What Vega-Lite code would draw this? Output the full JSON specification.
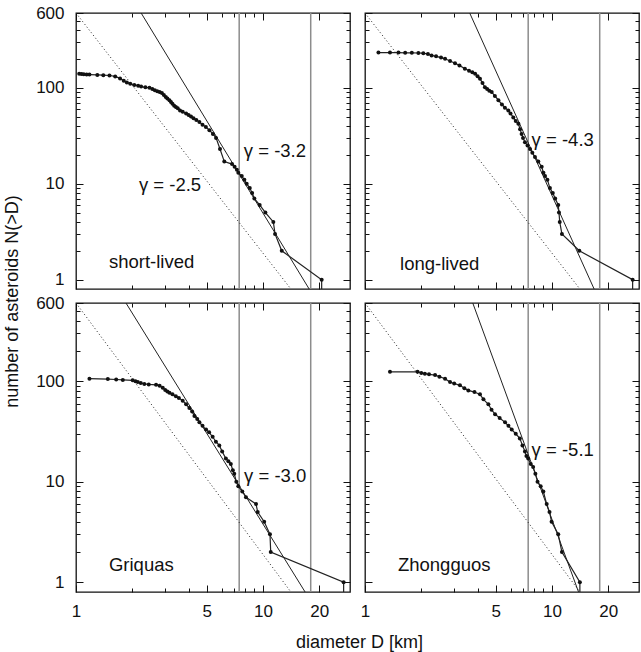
{
"$schema":"https://vega.github.io/schema/vega-lite/v6.json",
"padding":{"left":2,"top":3,"right":0,"bottom":5},
"background":"white",
"config":{"view":{"stroke":"#111","strokeWidth":1.3},
"axis":{"labelFont":"Liberation Sans","titleFont":"Liberation Sans","labelFontSize":17,"titleFontSize":18,"titleFontWeight":"normal","labelColor":"#111","titleColor":"#111","tickColor":"#111","tickWidth":1,"domain":false,"grid":false,"labelOverlap":false,"labelBound":false,"labelFlush":false},
"text":{"font":"Liberation Sans"}},
"datasets":{
"vl":[{"D":7.46},{"D":18.0}],
"ref":[{"D":1,"N":600},{"D":14.1,"N":0.8}],
"fits":[{"p":"A","D":2.23,"N":600},{"p":"A","D":17.66,"N":0.8},{"p":"B","D":3.63,"N":600},{"p":"B","D":16.8,"N":0.8},{"p":"C","D":1.85,"N":600},{"p":"C","D":16.8,"N":0.8},{"p":"D","D":3.77,"N":600},{"p":"D","D":13.87,"N":0.8}],
"labels":[{"p":"A","t":"γ = -3.2","D":7.9,"N":21.9},{"p":"A","t":"γ = -2.5","D":2.17,"N":9.6},{"p":"A","t":"short-lived","D":1.5,"N":1.52},{"p":"B","t":"γ = -4.3","D":7.78,"N":28.2},{"p":"B","t":"long-lived","D":1.54,"N":1.47},{"p":"C","t":"γ = -3.0","D":7.92,"N":11.4},{"p":"C","t":"Griquas","D":1.5,"N":1.48},{"p":"D","t":"γ = -5.1","D":7.78,"N":20.9},{"p":"D","t":"Zhongguos","D":1.5,"N":1.48}],
"obsA":[{"D":1.04,"N":140},{"D":1.07,"N":139},{"D":1.10,"N":138},{"D":1.14,"N":137},{"D":1.18,"N":137},{"D":1.30,"N":136},{"D":1.40,"N":135},{"D":1.51,"N":134},{"D":1.62,"N":131},{"D":1.72,"N":125},{"D":1.80,"N":118},{"D":1.87,"N":113},{"D":1.95,"N":110},{"D":2.05,"N":107},{"D":2.15,"N":105},{"D":2.23,"N":103},{"D":2.35,"N":101},{"D":2.47,"N":100},{"D":2.56,"N":97},{"D":2.64,"N":94},{"D":2.72,"N":92},{"D":2.80,"N":90},{"D":2.88,"N":88},{"D":2.95,"N":84},{"D":3.02,"N":80},{"D":3.08,"N":77},{"D":3.16,"N":74},{"D":3.22,"N":71},{"D":3.28,"N":68},{"D":3.35,"N":65},{"D":3.42,"N":63},{"D":3.50,"N":61},{"D":3.60,"N":58},{"D":3.72,"N":56},{"D":3.88,"N":54},{"D":4.00,"N":52},{"D":4.12,"N":50},{"D":4.25,"N":48},{"D":4.40,"N":46},{"D":4.57,"N":44},{"D":4.75,"N":41},{"D":4.95,"N":39},{"D":5.17,"N":36},{"D":5.40,"N":33},{"D":5.61,"N":30},{"D":5.89,"N":23},{"D":6.21,"N":17},{"D":6.83,"N":16},{"D":7.05,"N":15},{"D":7.25,"N":14},{"D":7.38,"N":13},{"D":7.70,"N":12},{"D":7.95,"N":11},{"D":8.18,"N":10},{"D":8.50,"N":9},{"D":8.75,"N":8},{"D":8.99,"N":7},{"D":9.60,"N":6},{"D":10.3,"N":5},{"D":11.36,"N":4},{"D":11.6,"N":3},{"D":12.6,"N":2},{"D":20.6,"N":1},{"D":20.6,"N":0.5}],
"obsB":[{"D":1.18,"N":232},{"D":1.36,"N":232},{"D":1.51,"N":232},{"D":1.64,"N":231},{"D":1.78,"N":231},{"D":1.93,"N":230},{"D":2.05,"N":229},{"D":2.17,"N":224},{"D":2.27,"N":217},{"D":2.40,"N":212},{"D":2.55,"N":206},{"D":2.68,"N":200},{"D":2.85,"N":190},{"D":3.03,"N":180},{"D":3.20,"N":170},{"D":3.42,"N":158},{"D":3.60,"N":150},{"D":3.75,"N":145},{"D":3.88,"N":140},{"D":4.00,"N":132},{"D":4.12,"N":124},{"D":4.25,"N":112},{"D":4.38,"N":101},{"D":4.50,"N":97},{"D":4.62,"N":93},{"D":4.76,"N":90},{"D":4.95,"N":82},{"D":5.17,"N":74},{"D":5.40,"N":67},{"D":5.60,"N":62},{"D":5.84,"N":58},{"D":6.00,"N":54},{"D":6.21,"N":49},{"D":6.40,"N":45},{"D":6.61,"N":42},{"D":6.75,"N":37},{"D":6.88,"N":33},{"D":7.00,"N":30},{"D":7.17,"N":27},{"D":7.40,"N":25},{"D":7.63,"N":23},{"D":7.85,"N":21},{"D":8.11,"N":19},{"D":8.45,"N":17},{"D":8.81,"N":15},{"D":9.00,"N":13},{"D":9.18,"N":12},{"D":9.45,"N":11},{"D":9.75,"N":9},{"D":10.1,"N":8},{"D":10.4,"N":7},{"D":10.8,"N":6},{"D":10.9,"N":5},{"D":11.0,"N":4},{"D":11.3,"N":3},{"D":14.0,"N":2},{"D":27.0,"N":1},{"D":27.0,"N":0.5}],
"obsC":[{"D":1.18,"N":106},{"D":1.48,"N":105},{"D":1.64,"N":104},{"D":1.78,"N":103},{"D":2.01,"N":102},{"D":2.08,"N":100},{"D":2.14,"N":98},{"D":2.22,"N":96},{"D":2.32,"N":94},{"D":2.45,"N":93},{"D":2.68,"N":92},{"D":2.80,"N":90},{"D":2.91,"N":86},{"D":3.00,"N":82},{"D":3.08,"N":79},{"D":3.16,"N":77},{"D":3.28,"N":74},{"D":3.42,"N":71},{"D":3.55,"N":68},{"D":3.72,"N":64},{"D":3.88,"N":59},{"D":4.04,"N":54},{"D":4.18,"N":50},{"D":4.30,"N":45},{"D":4.45,"N":42},{"D":4.57,"N":39},{"D":4.75,"N":36},{"D":4.96,"N":33},{"D":5.15,"N":31},{"D":5.38,"N":28},{"D":5.60,"N":25},{"D":5.84,"N":23},{"D":6.05,"N":20},{"D":6.33,"N":17},{"D":6.53,"N":16},{"D":6.73,"N":15},{"D":6.90,"N":13},{"D":7.02,"N":12},{"D":7.20,"N":10},{"D":7.38,"N":9},{"D":7.75,"N":8},{"D":8.11,"N":7},{"D":9.18,"N":6},{"D":9.37,"N":5},{"D":10.15,"N":4},{"D":10.9,"N":3},{"D":11.0,"N":2},{"D":27.0,"N":1},{"D":27.0,"N":0.5}],
"obsD":[{"D":1.36,"N":124},{"D":1.91,"N":124},{"D":2.00,"N":121},{"D":2.09,"N":119},{"D":2.20,"N":117},{"D":2.37,"N":115},{"D":2.50,"N":111},{"D":2.68,"N":106},{"D":2.85,"N":98},{"D":3.00,"N":95},{"D":3.22,"N":91},{"D":3.40,"N":85},{"D":3.57,"N":81},{"D":3.85,"N":78},{"D":4.12,"N":74},{"D":4.30,"N":66},{"D":4.57,"N":59},{"D":4.75,"N":52},{"D":4.96,"N":47},{"D":5.25,"N":43},{"D":5.61,"N":39},{"D":5.85,"N":36},{"D":6.09,"N":33},{"D":6.40,"N":30},{"D":6.73,"N":27},{"D":6.95,"N":23},{"D":7.17,"N":20},{"D":7.30,"N":18},{"D":7.46,"N":17},{"D":7.70,"N":15},{"D":7.93,"N":14},{"D":8.15,"N":12},{"D":8.37,"N":10},{"D":8.70,"N":9},{"D":8.99,"N":8},{"D":9.37,"N":6},{"D":9.70,"N":5},{"D":9.95,"N":4},{"D":10.8,"N":3},{"D":11.3,"N":2},{"D":14.1,"N":1},{"D":14.1,"N":0.5}]
},
"columns":2,
"spacing":{"row":14,"column":15},
"bounds":"flush",
"concat":[
{"width":274,"height":276,
"layer":[
{"data":{"name":"vl"},"mark":{"type":"rule","color":"#8c8c8c","strokeWidth":1.5},
"encoding":{"x":{"field":"D","type":"quantitative","scale":{"type":"log","domain":[1,29.2],"nice":false},"axis":{"orient":"bottom","values":[1,2,3,4,5,6,7,8,9,10,20],"labels":false,"title":null,"tickSize":{"condition":{"test":"indexof([1,5,10,20], datum.value) >= 0","value":-7},"value":-4}}}}},
{"data":{"name":"ref"},"mark":{"type":"line","color":"#222","strokeWidth":1,"strokeDash":[1,2.5],"clip":true},
"encoding":{"x":{"field":"D","type":"quantitative","scale":{"type":"log","domain":[1,29.2],"nice":false},"axis":null},"y":{"field":"N","type":"quantitative","scale":{"type":"log","domain":[0.8,600],"nice":false},"axis":{"orient":"left","values":[1,2,3,4,5,6,7,8,9,10,20,30,40,50,60,70,80,90,100,200,300,400,500,600],"labelExpr":"indexof([1,10,100,600], datum.value) >= 0 ? format(datum.value,'d') : ''","tickSize":{"condition":{"test":"indexof([1,10,100,600], datum.value) >= 0","value":-7},"value":-4},"labelPadding":19,"title":"number of asteroids N(>D)","titleX":-64,"titleY":288,"titleAlign":"center","titleBaseline":"middle","titleAngle":-90}}}},
{"data":{"name":"fits"},"transform":[{"filter":"datum.p == 'A'"}],"mark":{"type":"line","color":"#222","strokeWidth":1,"clip":true},
"encoding":{"x":{"field":"D","type":"quantitative","scale":{"type":"log","domain":[1,29.2],"nice":false},"axis":null},"y":{"field":"N","type":"quantitative","scale":{"type":"log","domain":[0.8,600],"nice":false},"axis":null}}},
{"data":{"name":"obsA"},"mark":{"type":"line","color":"#222","strokeWidth":1.2,"clip":true},
"encoding":{"x":{"field":"D","type":"quantitative","scale":{"type":"log","domain":[1,29.2],"nice":false},"axis":null},"y":{"field":"N","type":"quantitative","scale":{"type":"log","domain":[0.8,600],"nice":false},"axis":null}}},
{"data":{"name":"obsA"},"transform":[{"filter":"datum.N >= 1"}],"mark":{"type":"circle","color":"#111","size":16,"opacity":1},
"encoding":{"x":{"field":"D","type":"quantitative","scale":{"type":"log","domain":[1,29.2],"nice":false},"axis":null},"y":{"field":"N","type":"quantitative","scale":{"type":"log","domain":[0.8,600],"nice":false},"axis":null}}},
{"data":{"name":"labels"},"transform":[{"filter":"datum.p == 'A'"}],"mark":{"type":"text","align":"left","baseline":"middle","fontSize":18.5,"color":"#111"},
"encoding":{"x":{"field":"D","type":"quantitative","scale":{"type":"log","domain":[1,29.2],"nice":false},"axis":null},"y":{"field":"N","type":"quantitative","scale":{"type":"log","domain":[0.8,600],"nice":false},"axis":null},"text":{"field":"t"}}},
{"data":{"name":"ref"},"mark":{"type":"point","opacity":0},
"encoding":{"x":{"field":"D","type":"quantitative","scale":{"type":"log","domain":[1,29.2],"nice":false},"axis":{"orient":"top","values":[1,2,3,4,5,6,7,8,9,10,20],"labels":false,"title":null,"tickSize":{"condition":{"test":"indexof([1,5,10,20], datum.value) >= 0","value":-7},"value":-4}}},"y":{"field":"N","type":"quantitative","scale":{"type":"log","domain":[0.8,600],"nice":false},"axis":{"orient":"right","values":[1,2,3,4,5,6,7,8,9,10,20,30,40,50,60,70,80,90,100,200,300,400,500,600],"labels":false,"title":null,"tickSize":{"condition":{"test":"indexof([1,10,100,600], datum.value) >= 0","value":-7},"value":-4}}}}}
],
"resolve":{"axis":{"x":"independent","y":"independent"}}},
{"width":274,"height":276,
"layer":[
{"data":{"name":"vl"},"mark":{"type":"rule","color":"#8c8c8c","strokeWidth":1.5},
"encoding":{"x":{"field":"D","type":"quantitative","scale":{"type":"log","domain":[1,29.2],"nice":false},"axis":{"orient":"bottom","values":[1,2,3,4,5,6,7,8,9,10,20],"labels":false,"title":null,"tickSize":{"condition":{"test":"indexof([1,5,10,20], datum.value) >= 0","value":-7},"value":-4}}}}},
{"data":{"name":"ref"},"mark":{"type":"line","color":"#222","strokeWidth":1,"strokeDash":[1,2.5],"clip":true},
"encoding":{"x":{"field":"D","type":"quantitative","scale":{"type":"log","domain":[1,29.2],"nice":false},"axis":null},"y":{"field":"N","type":"quantitative","scale":{"type":"log","domain":[0.8,600],"nice":false},"axis":{"orient":"left","values":[1,2,3,4,5,6,7,8,9,10,20,30,40,50,60,70,80,90,100,200,300,400,500,600],"labels":false,"title":null,"tickSize":{"condition":{"test":"indexof([1,10,100,600], datum.value) >= 0","value":-7},"value":-4}}}}},
{"data":{"name":"fits"},"transform":[{"filter":"datum.p == 'B'"}],"mark":{"type":"line","color":"#222","strokeWidth":1,"clip":true},
"encoding":{"x":{"field":"D","type":"quantitative","scale":{"type":"log","domain":[1,29.2],"nice":false},"axis":null},"y":{"field":"N","type":"quantitative","scale":{"type":"log","domain":[0.8,600],"nice":false},"axis":null}}},
{"data":{"name":"obsB"},"mark":{"type":"line","color":"#222","strokeWidth":1.2,"clip":true},
"encoding":{"x":{"field":"D","type":"quantitative","scale":{"type":"log","domain":[1,29.2],"nice":false},"axis":null},"y":{"field":"N","type":"quantitative","scale":{"type":"log","domain":[0.8,600],"nice":false},"axis":null}}},
{"data":{"name":"obsB"},"transform":[{"filter":"datum.N >= 1"}],"mark":{"type":"circle","color":"#111","size":16,"opacity":1},
"encoding":{"x":{"field":"D","type":"quantitative","scale":{"type":"log","domain":[1,29.2],"nice":false},"axis":null},"y":{"field":"N","type":"quantitative","scale":{"type":"log","domain":[0.8,600],"nice":false},"axis":null}}},
{"data":{"name":"labels"},"transform":[{"filter":"datum.p == 'B'"}],"mark":{"type":"text","align":"left","baseline":"middle","fontSize":18.5,"color":"#111"},
"encoding":{"x":{"field":"D","type":"quantitative","scale":{"type":"log","domain":[1,29.2],"nice":false},"axis":null},"y":{"field":"N","type":"quantitative","scale":{"type":"log","domain":[0.8,600],"nice":false},"axis":null},"text":{"field":"t"}}},
{"data":{"name":"ref"},"mark":{"type":"point","opacity":0},
"encoding":{"x":{"field":"D","type":"quantitative","scale":{"type":"log","domain":[1,29.2],"nice":false},"axis":{"orient":"top","values":[1,2,3,4,5,6,7,8,9,10,20],"labels":false,"title":null,"tickSize":{"condition":{"test":"indexof([1,5,10,20], datum.value) >= 0","value":-7},"value":-4}}},"y":{"field":"N","type":"quantitative","scale":{"type":"log","domain":[0.8,600],"nice":false},"axis":{"orient":"right","values":[1,2,3,4,5,6,7,8,9,10,20,30,40,50,60,70,80,90,100,200,300,400,500,600],"labels":false,"title":null,"tickSize":{"condition":{"test":"indexof([1,10,100,600], datum.value) >= 0","value":-7},"value":-4}}}}}
],
"resolve":{"axis":{"x":"independent","y":"independent"}}},
{"width":274,"height":289,
"layer":[
{"data":{"name":"vl"},"mark":{"type":"rule","color":"#8c8c8c","strokeWidth":1.5},
"encoding":{"x":{"field":"D","type":"quantitative","scale":{"type":"log","domain":[1,29.2],"nice":false},"axis":{"orient":"bottom","values":[1,2,3,4,5,6,7,8,9,10,20],"labelExpr":"indexof([1,5,10,20], datum.value) >= 0 ? format(datum.value,'d') : ''","labelPadding":18,"title":"diameter D [km]","titleX":283,"titleY":50,"titleAlign":"center","titleBaseline":"middle","tickSize":{"condition":{"test":"indexof([1,5,10,20], datum.value) >= 0","value":-7},"value":-4}}}}},
{"data":{"name":"ref"},"mark":{"type":"line","color":"#222","strokeWidth":1,"strokeDash":[1,2.5],"clip":true},
"encoding":{"x":{"field":"D","type":"quantitative","scale":{"type":"log","domain":[1,29.2],"nice":false},"axis":null},"y":{"field":"N","type":"quantitative","scale":{"type":"log","domain":[0.8,600],"nice":false},"axis":{"orient":"left","values":[1,2,3,4,5,6,7,8,9,10,20,30,40,50,60,70,80,90,100,200,300,400,500,600],"labelExpr":"indexof([1,10,100,600], datum.value) >= 0 ? format(datum.value,'d') : ''","labelPadding":19,"title":null,"tickSize":{"condition":{"test":"indexof([1,10,100,600], datum.value) >= 0","value":-7},"value":-4}}}}},
{"data":{"name":"fits"},"transform":[{"filter":"datum.p == 'C'"}],"mark":{"type":"line","color":"#222","strokeWidth":1,"clip":true},
"encoding":{"x":{"field":"D","type":"quantitative","scale":{"type":"log","domain":[1,29.2],"nice":false},"axis":null},"y":{"field":"N","type":"quantitative","scale":{"type":"log","domain":[0.8,600],"nice":false},"axis":null}}},
{"data":{"name":"obsC"},"mark":{"type":"line","color":"#222","strokeWidth":1.2,"clip":true},
"encoding":{"x":{"field":"D","type":"quantitative","scale":{"type":"log","domain":[1,29.2],"nice":false},"axis":null},"y":{"field":"N","type":"quantitative","scale":{"type":"log","domain":[0.8,600],"nice":false},"axis":null}}},
{"data":{"name":"obsC"},"transform":[{"filter":"datum.N >= 1"}],"mark":{"type":"circle","color":"#111","size":16,"opacity":1},
"encoding":{"x":{"field":"D","type":"quantitative","scale":{"type":"log","domain":[1,29.2],"nice":false},"axis":null},"y":{"field":"N","type":"quantitative","scale":{"type":"log","domain":[0.8,600],"nice":false},"axis":null}}},
{"data":{"name":"labels"},"transform":[{"filter":"datum.p == 'C'"}],"mark":{"type":"text","align":"left","baseline":"middle","fontSize":18.5,"color":"#111"},
"encoding":{"x":{"field":"D","type":"quantitative","scale":{"type":"log","domain":[1,29.2],"nice":false},"axis":null},"y":{"field":"N","type":"quantitative","scale":{"type":"log","domain":[0.8,600],"nice":false},"axis":null},"text":{"field":"t"}}},
{"data":{"name":"ref"},"mark":{"type":"point","opacity":0},
"encoding":{"x":{"field":"D","type":"quantitative","scale":{"type":"log","domain":[1,29.2],"nice":false},"axis":{"orient":"top","values":[1,2,3,4,5,6,7,8,9,10,20],"labels":false,"title":null,"tickSize":{"condition":{"test":"indexof([1,5,10,20], datum.value) >= 0","value":-7},"value":-4}}},"y":{"field":"N","type":"quantitative","scale":{"type":"log","domain":[0.8,600],"nice":false},"axis":{"orient":"right","values":[1,2,3,4,5,6,7,8,9,10,20,30,40,50,60,70,80,90,100,200,300,400,500,600],"labels":false,"title":null,"tickSize":{"condition":{"test":"indexof([1,10,100,600], datum.value) >= 0","value":-7},"value":-4}}}}}
],
"resolve":{"axis":{"x":"independent","y":"independent"}}},
{"width":274,"height":289,
"layer":[
{"data":{"name":"vl"},"mark":{"type":"rule","color":"#8c8c8c","strokeWidth":1.5},
"encoding":{"x":{"field":"D","type":"quantitative","scale":{"type":"log","domain":[1,29.2],"nice":false},"axis":{"orient":"bottom","values":[1,2,3,4,5,6,7,8,9,10,20],"labelExpr":"indexof([1,5,10,20], datum.value) >= 0 ? format(datum.value,'d') : ''","labelPadding":18,"title":null,"tickSize":{"condition":{"test":"indexof([1,5,10,20], datum.value) >= 0","value":-7},"value":-4}}}}},
{"data":{"name":"ref"},"mark":{"type":"line","color":"#222","strokeWidth":1,"strokeDash":[1,2.5],"clip":true},
"encoding":{"x":{"field":"D","type":"quantitative","scale":{"type":"log","domain":[1,29.2],"nice":false},"axis":null},"y":{"field":"N","type":"quantitative","scale":{"type":"log","domain":[0.8,600],"nice":false},"axis":{"orient":"left","values":[1,2,3,4,5,6,7,8,9,10,20,30,40,50,60,70,80,90,100,200,300,400,500,600],"labels":false,"title":null,"tickSize":{"condition":{"test":"indexof([1,10,100,600], datum.value) >= 0","value":-7},"value":-4}}}}},
{"data":{"name":"fits"},"transform":[{"filter":"datum.p == 'D'"}],"mark":{"type":"line","color":"#222","strokeWidth":1,"clip":true},
"encoding":{"x":{"field":"D","type":"quantitative","scale":{"type":"log","domain":[1,29.2],"nice":false},"axis":null},"y":{"field":"N","type":"quantitative","scale":{"type":"log","domain":[0.8,600],"nice":false},"axis":null}}},
{"data":{"name":"obsD"},"mark":{"type":"line","color":"#222","strokeWidth":1.2,"clip":true},
"encoding":{"x":{"field":"D","type":"quantitative","scale":{"type":"log","domain":[1,29.2],"nice":false},"axis":null},"y":{"field":"N","type":"quantitative","scale":{"type":"log","domain":[0.8,600],"nice":false},"axis":null}}},
{"data":{"name":"obsD"},"transform":[{"filter":"datum.N >= 1"}],"mark":{"type":"circle","color":"#111","size":16,"opacity":1},
"encoding":{"x":{"field":"D","type":"quantitative","scale":{"type":"log","domain":[1,29.2],"nice":false},"axis":null},"y":{"field":"N","type":"quantitative","scale":{"type":"log","domain":[0.8,600],"nice":false},"axis":null}}},
{"data":{"name":"labels"},"transform":[{"filter":"datum.p == 'D'"}],"mark":{"type":"text","align":"left","baseline":"middle","fontSize":18.5,"color":"#111"},
"encoding":{"x":{"field":"D","type":"quantitative","scale":{"type":"log","domain":[1,29.2],"nice":false},"axis":null},"y":{"field":"N","type":"quantitative","scale":{"type":"log","domain":[0.8,600],"nice":false},"axis":null},"text":{"field":"t"}}},
{"data":{"name":"ref"},"mark":{"type":"point","opacity":0},
"encoding":{"x":{"field":"D","type":"quantitative","scale":{"type":"log","domain":[1,29.2],"nice":false},"axis":{"orient":"top","values":[1,2,3,4,5,6,7,8,9,10,20],"labels":false,"title":null,"tickSize":{"condition":{"test":"indexof([1,5,10,20], datum.value) >= 0","value":-7},"value":-4}}},"y":{"field":"N","type":"quantitative","scale":{"type":"log","domain":[0.8,600],"nice":false},"axis":{"orient":"right","values":[1,2,3,4,5,6,7,8,9,10,20,30,40,50,60,70,80,90,100,200,300,400,500,600],"labels":false,"title":null,"tickSize":{"condition":{"test":"indexof([1,10,100,600], datum.value) >= 0","value":-7},"value":-4}}}}}
],
"resolve":{"axis":{"x":"independent","y":"independent"}}}
]
}
